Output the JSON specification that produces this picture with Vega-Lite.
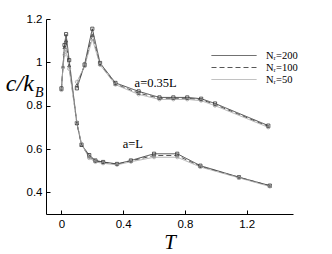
{
  "$schema": "https://vega.github.io/schema/vega-lite/v6.json",
  "width": 247,
  "height": 195,
  "autosize": {"type": "none"},
  "padding": {"left": 46, "top": 19, "right": 39, "bottom": 40},
  "background": "white",
  "config": {
    "view": {"stroke": null},
    "axis": {
      "grid": false,
      "domainColor": "#000",
      "domainWidth": 1,
      "tickColor": "#000",
      "tickWidth": 1,
      "labelFont": "Liberation Sans",
      "labelFontSize": 11.5,
      "labelColor": "#000",
      "labelOverlap": false
    }
  },
  "datasets": {
    "curves": [
      {"a": "L", "N": "200", "T": 0, "c": 0.88},
      {"a": "L", "N": "200", "T": 0.02, "c": 1.08},
      {"a": "L", "N": "200", "T": 0.03, "c": 1.13},
      {"a": "L", "N": "200", "T": 0.05, "c": 1.01},
      {"a": "L", "N": "200", "T": 0.1, "c": 0.72},
      {"a": "L", "N": "200", "T": 0.13, "c": 0.62},
      {"a": "L", "N": "200", "T": 0.18, "c": 0.572},
      {"a": "L", "N": "200", "T": 0.22, "c": 0.547},
      {"a": "L", "N": "200", "T": 0.27, "c": 0.54},
      {"a": "L", "N": "200", "T": 0.36, "c": 0.531},
      {"a": "L", "N": "200", "T": 0.45, "c": 0.547},
      {"a": "L", "N": "200", "T": 0.6, "c": 0.578},
      {"a": "L", "N": "200", "T": 0.75, "c": 0.578},
      {"a": "L", "N": "200", "T": 0.9, "c": 0.523},
      {"a": "L", "N": "200", "T": 1.15, "c": 0.47},
      {"a": "L", "N": "200", "T": 1.35, "c": 0.431},
      {"a": "L", "N": "100", "T": 0, "c": 0.876},
      {"a": "L", "N": "100", "T": 0.01, "c": 0.98},
      {"a": "L", "N": "100", "T": 0.02, "c": 1.07},
      {"a": "L", "N": "100", "T": 0.03, "c": 1.1},
      {"a": "L", "N": "100", "T": 0.05, "c": 0.985},
      {"a": "L", "N": "100", "T": 0.1, "c": 0.718},
      {"a": "L", "N": "100", "T": 0.13, "c": 0.618},
      {"a": "L", "N": "100", "T": 0.18, "c": 0.565},
      {"a": "L", "N": "100", "T": 0.22, "c": 0.545},
      {"a": "L", "N": "100", "T": 0.27, "c": 0.538},
      {"a": "L", "N": "100", "T": 0.36, "c": 0.53},
      {"a": "L", "N": "100", "T": 0.45, "c": 0.545},
      {"a": "L", "N": "100", "T": 0.6, "c": 0.57},
      {"a": "L", "N": "100", "T": 0.75, "c": 0.57},
      {"a": "L", "N": "100", "T": 0.9, "c": 0.52},
      {"a": "L", "N": "100", "T": 1.15, "c": 0.469},
      {"a": "L", "N": "100", "T": 1.35, "c": 0.43},
      {"a": "L", "N": "50", "T": 0, "c": 0.872},
      {"a": "L", "N": "50", "T": 0.01, "c": 0.978},
      {"a": "L", "N": "50", "T": 0.02, "c": 1.035},
      {"a": "L", "N": "50", "T": 0.03, "c": 1.06},
      {"a": "L", "N": "50", "T": 0.05, "c": 0.97},
      {"a": "L", "N": "50", "T": 0.1, "c": 0.722},
      {"a": "L", "N": "50", "T": 0.13, "c": 0.624},
      {"a": "L", "N": "50", "T": 0.18, "c": 0.558},
      {"a": "L", "N": "50", "T": 0.22, "c": 0.54},
      {"a": "L", "N": "50", "T": 0.27, "c": 0.534},
      {"a": "L", "N": "50", "T": 0.36, "c": 0.527},
      {"a": "L", "N": "50", "T": 0.45, "c": 0.541},
      {"a": "L", "N": "50", "T": 0.6, "c": 0.562},
      {"a": "L", "N": "50", "T": 0.75, "c": 0.562},
      {"a": "L", "N": "50", "T": 0.9, "c": 0.517},
      {"a": "L", "N": "50", "T": 1.15, "c": 0.467},
      {"a": "L", "N": "50", "T": 1.35, "c": 0.427},
      {"a": "0.35L", "N": "200", "T": 0.1, "c": 0.88},
      {"a": "0.35L", "N": "200", "T": 0.15, "c": 0.99},
      {"a": "0.35L", "N": "200", "T": 0.2, "c": 1.155},
      {"a": "0.35L", "N": "200", "T": 0.25, "c": 0.997},
      {"a": "0.35L", "N": "200", "T": 0.35, "c": 0.905},
      {"a": "0.35L", "N": "200", "T": 0.5, "c": 0.866},
      {"a": "0.35L", "N": "200", "T": 0.635, "c": 0.838},
      {"a": "0.35L", "N": "200", "T": 0.725, "c": 0.838},
      {"a": "0.35L", "N": "200", "T": 0.815, "c": 0.838},
      {"a": "0.35L", "N": "200", "T": 0.905, "c": 0.832},
      {"a": "0.35L", "N": "200", "T": 0.995, "c": 0.81},
      {"a": "0.35L", "N": "200", "T": 1.34, "c": 0.708},
      {"a": "0.35L", "N": "100", "T": 0.1, "c": 0.895},
      {"a": "0.35L", "N": "100", "T": 0.15, "c": 0.986},
      {"a": "0.35L", "N": "100", "T": 0.2, "c": 1.125},
      {"a": "0.35L", "N": "100", "T": 0.25, "c": 0.992},
      {"a": "0.35L", "N": "100", "T": 0.35, "c": 0.9},
      {"a": "0.35L", "N": "100", "T": 0.5, "c": 0.858},
      {"a": "0.35L", "N": "100", "T": 0.635, "c": 0.834},
      {"a": "0.35L", "N": "100", "T": 0.725, "c": 0.834},
      {"a": "0.35L", "N": "100", "T": 0.815, "c": 0.834},
      {"a": "0.35L", "N": "100", "T": 0.905, "c": 0.828},
      {"a": "0.35L", "N": "100", "T": 0.995, "c": 0.805},
      {"a": "0.35L", "N": "100", "T": 1.34, "c": 0.704},
      {"a": "0.35L", "N": "50", "T": 0.1, "c": 0.91},
      {"a": "0.35L", "N": "50", "T": 0.15, "c": 0.982},
      {"a": "0.35L", "N": "50", "T": 0.2, "c": 1.108},
      {"a": "0.35L", "N": "50", "T": 0.25, "c": 0.988},
      {"a": "0.35L", "N": "50", "T": 0.35, "c": 0.897},
      {"a": "0.35L", "N": "50", "T": 0.5, "c": 0.852},
      {"a": "0.35L", "N": "50", "T": 0.635, "c": 0.829},
      {"a": "0.35L", "N": "50", "T": 0.725, "c": 0.829},
      {"a": "0.35L", "N": "50", "T": 0.815, "c": 0.829},
      {"a": "0.35L", "N": "50", "T": 0.905, "c": 0.823},
      {"a": "0.35L", "N": "50", "T": 0.995, "c": 0.8},
      {"a": "0.35L", "N": "50", "T": 1.34, "c": 0.7}
    ],
    "notes": [
      {"T": 0.474, "c": 0.886, "text": "a=0.35L"},
      {"T": 0.397, "c": 0.605, "text": "a=L"}
    ],
    "ytitle": [
      {"T": -0.36, "c": 0.868, "text": "c/k"}
    ],
    "ysub": [
      {"T": -0.172, "c": 0.84, "text": "B"}
    ]
  },
  "layer": [
    {
      "data": {"name": "curves"},
      "mark": {"type": "line", "strokeWidth": 0.9},
      "encoding": {
        "x": {
          "field": "T", "type": "quantitative",
          "scale": {"domain": [-0.1, 1.5], "nice": false, "zero": false},
          "axis": {
            "values": [0, 0.2, 0.4, 0.6, 0.8, 1, 1.2, 1.4],
            "format": "~g",
            "labelOverlap": false,
            "labelSeparation": 0,
            "tickSize": -4,
            "labelPadding": 8,
            "labelFlush": false,
            "title": "T",
            "titleFont": "Liberation Serif",
            "titleFontStyle": "italic",
            "titleFontWeight": "normal",
            "titleFontSize": 21,
            "titleColor": "#000",
            "titlePadding": 2
          }
        },
        "y": {
          "field": "c", "type": "quantitative",
          "scale": {"domain": [0.3, 1.2], "nice": false, "zero": false},
          "axis": {
            "values": [0.4, 0.6, 0.8, 1, 1.2],
            "format": "~g",
            "labelOverlap": false,
            "tickSize": -4,
            "labelPadding": 8,
            "labelFlush": false,
            "title": null
          }
        },
        "detail": {"field": "a"},
        "color": {
          "field": "N", "type": "nominal",
          "scale": {"domain": ["200", "100", "50"], "range": ["#333333", "#444444", "#a8a8a8"]},
          "legend": {
            "orient": "top-right", "offset": -5, "padding": 0,
            "title": " ", "titleFontSize": 11, "titlePadding": 24,
            "rowPadding": 0, "symbolType": "M-1,0H6.5", "symbolSize": 144, "symbolStrokeWidth": 0.9,
            "labelFont": "Liberation Serif", "labelFontSize": 10.5, "labelColor": "#000", "labelOffset": 42,
            "labelExpr": "'Nᵣ=' + datum.label"
          }
        },
        "strokeDash": {
          "field": "N", "type": "nominal",
          "scale": {"domain": ["200", "100", "50"], "range": [[1, 0], [5, 3], [1, 0]]},
          "legend": {
            "orient": "top-right", "offset": -5, "padding": 0,
            "title": " ", "titleFontSize": 11, "titlePadding": 24,
            "rowPadding": 0, "symbolType": "M-1,0H6.5", "symbolSize": 144, "symbolStrokeWidth": 0.9,
            "labelFont": "Liberation Serif", "labelFontSize": 10.5, "labelColor": "#000", "labelOffset": 42,
            "labelExpr": "'Nᵣ=' + datum.label"
          }
        }
      }
    },
    {
      "data": {"name": "curves"},
      "transform": [{"calculate": "'n' + datum.N", "as": "Nr"}],
      "mark": {"type": "point", "filled": false, "size": 10, "strokeWidth": 0.8, "opacity": 1},
      "encoding": {
        "x": {"field": "T", "type": "quantitative", "axis": {"labelOverlap": false}},
        "y": {"field": "c", "type": "quantitative"},
        "color": {"field": "N", "type": "nominal", "legend": null},
        "shape": {
          "field": "Nr", "type": "nominal",
          "scale": {"domain": ["n200", "n100", "n50"], "range": ["square", "triangle-up", "circle"]},
          "legend": null
        }
      }
    },
    {
      "data": {"name": "notes"},
      "mark": {"type": "text", "font": "Liberation Serif", "fontSize": 12.5, "align": "left", "baseline": "alphabetic", "color": "#000"},
      "encoding": {
        "x": {"field": "T", "type": "quantitative"},
        "y": {"field": "c", "type": "quantitative"},
        "text": {"field": "text"}
      }
    },
    {
      "data": {"name": "ytitle"},
      "mark": {"type": "text", "font": "Liberation Serif", "fontStyle": "italic", "fontSize": 24, "align": "left", "baseline": "alphabetic", "color": "#000"},
      "encoding": {
        "x": {"field": "T", "type": "quantitative"},
        "y": {"field": "c", "type": "quantitative"},
        "text": {"field": "text"}
      }
    },
    {
      "data": {"name": "ysub"},
      "mark": {"type": "text", "font": "Liberation Serif", "fontStyle": "italic", "fontSize": 14, "align": "left", "baseline": "alphabetic", "color": "#000"},
      "encoding": {
        "x": {"field": "T", "type": "quantitative"},
        "y": {"field": "c", "type": "quantitative"},
        "text": {"field": "text"}
      }
    }
  ]
}
